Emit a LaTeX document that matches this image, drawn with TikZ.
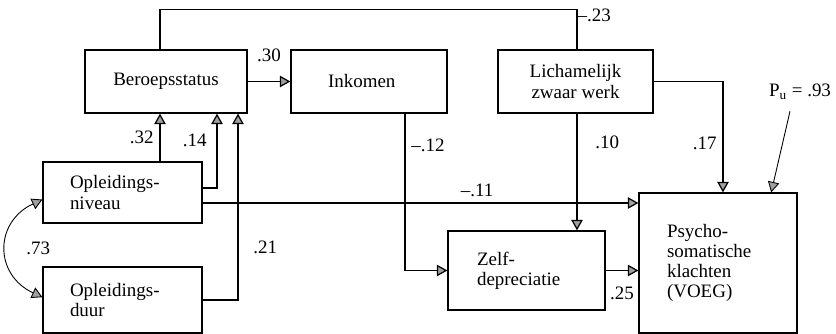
\documentclass[tikz,border=0pt]{standalone}
\usepackage{fontspec}
\setmainfont{Liberation Serif}
\usetikzlibrary{arrows.meta}

\tikzset{
  var/.style={draw, rectangle, line width=0.7pt, font=\fontsize{10.8}{11.4}\selectfont, align=left, inner ysep=2pt},
  coef/.style={font=\fontsize{10.8}{11.4}\selectfont},
}

\begin{document}
\begin{tikzpicture}[x=0.02cm, y=-0.02cm, line width=0.7pt,
    >={Triangle[length=6pt, width=6.5pt, fill=gray!75]}]
    \useasboundingbox (0,0) rectangle (836,334);
    % variables
    \node[var, minimum width=3.24cm, minimum height=1.26cm, align=center] (beroep) at (166,81.5) {Beroepsstatus};
    \node[var, minimum height=1.26cm, inner xsep=0.74cm, text width=1.64cm] (inkomen) at (369,81.5) {Inkomen};
    \node[var, minimum width=3.1cm, minimum height=1.26cm, align=center] (lich) at (575.5,81.5) {Lichamelijk\\zwaar werk};
    \node[var, minimum height=1.22cm, inner xsep=0.54cm, text width=2.1cm] (opln) at (122.5,192.5) {Opleidings-\\niveau};
    \node[var, minimum height=1.32cm, inner xsep=0.54cm, text width=2.1cm] (opld) at (122.5,300) {Opleidings-\\duur};
    \node[var, minimum height=1.58cm, inner xsep=0.58cm, text width=1.98cm] (zelf) at (526.5,270.5) {Zelf-\\depreciatie};
    \node[var, minimum height=2.8cm, inner xsep=0.56cm, text width=2.04cm] (psycho) at (718,263) {Psycho-\\somatische\\klachten\\(VOEG)};
    \node[coef] (pu) at (800,92) {P\textsubscript{u} = .93};
    % lanes
    \coordinate (lane1) at (160,0);
    \coordinate (lane2) at (217,0);
    \coordinate (lane3) at (238,0);
    \coordinate (laneI) at (405,0);
    \coordinate (laneL) at (577,0);
    \coordinate (laneR) at (723,0);
    % paths
    \draw[->] (beroep) -- (inkomen) node[coef, midway, above=0.26cm] {.30};
    \draw (beroep.north -| lane1) -- ++(0,-40) -| (lich.north -| laneL) node[coef, pos=0.58, right, inner sep=0pt] {--.23};
    \draw[->] (opln.north -| lane1) -- (beroep.south -| lane1) node[coef, midway, left] {.32};
    \draw[->] ([yshift=0.09cm]opln.east) -| (beroep.south -| lane2) node[coef, pos=0.82, left=0.08cm] {.14};
    \draw[->] (opld.east) -| (beroep.south -| lane3) node[coef, pos=0.64, right=0.18cm] {.21};
    \draw[->] ([yshift=-0.21cm]opln.east) -- ([yshift=-0.21cm]opln.east -| psycho.west) node[coef, pos=0.63, above] {--.11};
    \draw[->] (inkomen.south -| laneI) |- (zelf.west) node[coef, pos=0.1, right] {--.12};
    \draw[->] (lich.south -| laneL) -- (zelf.north -| laneL) node[coef, pos=0.25, right=0.24cm] {.10};
    \draw[->] (lich.east) -| (psycho.north -| laneR) node[coef, pos=0.78, left] {.17};
    \draw[->] (zelf.east) -- (psycho.west |- zelf.east) node[coef, midway, below=0.2cm] {.25};
    \draw[<->, line width=0.5pt] (opln.185) to[out=205, in=155, looseness=1.4] node[coef, midway, right=0.28cm] {.73} (opld.178);
    \draw[->, line width=0.5pt] ([xshift=-0.2cm, yshift=-0.1cm]pu.south) -- (psycho.53);
\end{tikzpicture}
\end{document}
